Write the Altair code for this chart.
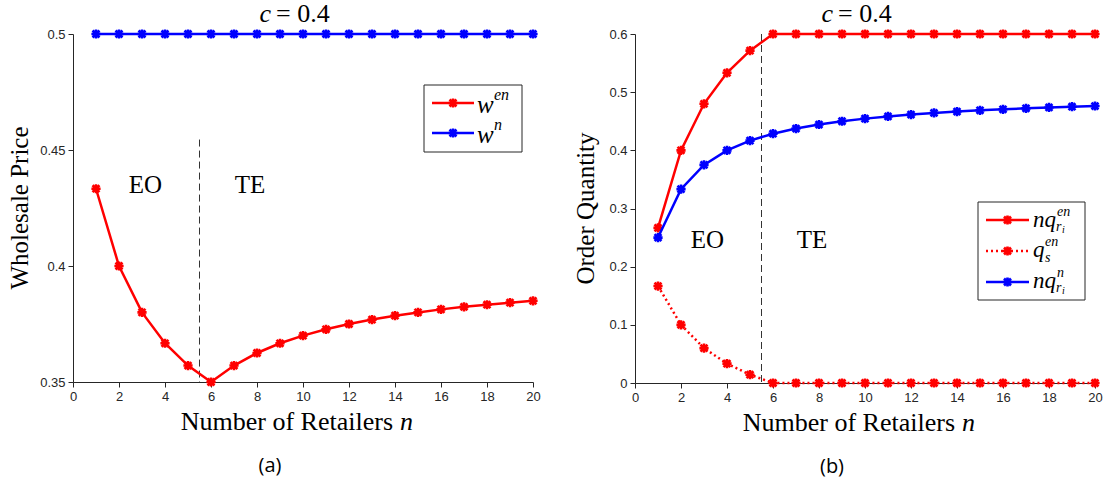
import altair as alt
import pandas as pd

# ---------------- data ----------------
n_retailers = [1, 2, 3, 4, 5, 6, 7, 8, 9, 10, 11, 12, 13, 14, 15, 16, 17, 18, 19, 20]
c_text = "0.4"

w_en = [0.4333, 0.4000, 0.3800, 0.3667, 0.3571, 0.3500, 0.3571, 0.3625, 0.3667, 0.3700,
        0.3727, 0.3750, 0.3769, 0.3786, 0.3800, 0.3813, 0.3824, 0.3833, 0.3842, 0.3850]
w_n = [0.5, 0.5, 0.5, 0.5, 0.5, 0.5, 0.5, 0.5, 0.5, 0.5,
       0.5, 0.5, 0.5, 0.5, 0.5, 0.5, 0.5, 0.5, 0.5, 0.5]

nq_en = [0.2667, 0.4000, 0.4800, 0.5333, 0.5714, 0.6, 0.6, 0.6, 0.6, 0.6,
         0.6, 0.6, 0.6, 0.6, 0.6, 0.6, 0.6, 0.6, 0.6, 0.6]
qs_en = [0.1667, 0.1000, 0.0600, 0.0333, 0.0143, 0.0, 0.0, 0.0, 0.0, 0.0,
         0.0, 0.0, 0.0, 0.0, 0.0, 0.0, 0.0, 0.0, 0.0, 0.0]
nq_n = [0.2500, 0.3333, 0.3750, 0.4000, 0.4167, 0.4286, 0.4375, 0.4444, 0.4500, 0.4545,
        0.4583, 0.4615, 0.4643, 0.4667, 0.4688, 0.4706, 0.4722, 0.4737, 0.4750, 0.4762]

x_ticks = [0, 2, 4, 6, 8, 10, 12, 14, 16, 18, 20]
y_ticks_a = [0.35, 0.4, 0.45, 0.5]
y_ticks_b = [0, 0.1, 0.2, 0.3, 0.4, 0.5, 0.6]

boundary_n = 5.5
boundary_a = [0.4545, 0.35]
boundary_b = [0.6, 0.0]
regime_labels = ["EO", "TE"]
regime_n = [3.15, 7.7]
regime_v_a = [0.435, 0.435]
regime_v_b = [0.245, 0.245]

# ---------------- styling ----------------
W = 460
H_A, H_B = 348, 349
SERIF = "Liberation Serif"
SANS = "Liberation Sans"
DARK = "#262626"
RED, BLUE = "#ff0000", "#0000ff"
AST = "M-1,0L1,0M0,-1L0,1M-0.75,-0.75L0.75,0.75M-0.75,0.75L0.75,-0.75"
ONE = pd.DataFrame({"k": [0]})
MSIZE, MSTROKE = 85, 2.6


def enc_xy(ydomain, yticks):
    xaxis = alt.Axis(values=x_ticks, title=None, grid=False, labelFont=SANS, labelFontSize=13,
                     labelColor=DARK, tickColor=DARK, domainColor=DARK, tickSize=5,
                     labelPadding=3, labelFlush=False)
    yaxis = alt.Axis(values=yticks, format="~g", title=None, grid=False, labelFont=SANS,
                     labelFontSize=13, labelColor=DARK, tickColor=DARK, domainColor=DARK,
                     tickSize=5, labelPadding=3, labelFlush=False)
    x = alt.X("n:Q", scale=alt.Scale(domain=[0, 20], nice=False), axis=xaxis)
    y = alt.Y("v:Q", scale=alt.Scale(domain=ydomain, nice=False, zero=False), axis=yaxis)
    return x, y


def series_layers(values, color, x, y, dash=None):
    df = pd.DataFrame({"n": n_retailers, "v": values})
    base = alt.Chart(df).encode(x=x, y=y)
    if dash:
        line = base.mark_line(color=color, strokeWidth=2.5, strokeDash=dash)
    else:
        line = base.mark_line(color=color, strokeWidth=2.5)
    sq = base.mark_point(shape="square", size=30, color=color, filled=True, opacity=1)
    pts = base.mark_point(shape=AST, size=MSIZE, color=color, strokeWidth=MSTROKE, filled=False, opacity=1)
    return [line, sq, pts]


def txt(px, py, s, size, italic=False, align="left", font=SERIF, angle=0, baseline="middle", color="black"):
    kw = dict(text=s, fontSize=size, font=font, align=align, baseline=baseline, color=color)
    if italic:
        kw["fontStyle"] = "italic"
    if angle:
        kw["angle"] = angle
    return alt.Chart(ONE).mark_text(**kw).encode(x=alt.value(px), y=alt.value(py))


def leg_row(x0, x1, y, color, dash=None):
    if dash:
        r = alt.Chart(ONE).mark_rule(color=color, strokeWidth=2.5, strokeDash=dash)
    else:
        r = alt.Chart(ONE).mark_rule(color=color, strokeWidth=2.5)
    r = r.encode(x=alt.value(x0), x2=alt.value(x1), y=alt.value(y))
    xm = (x0 + x1) / 2
    s = alt.Chart(ONE).mark_point(shape="square", size=30, color=color, filled=True,
                                  opacity=1).encode(x=alt.value(xm), y=alt.value(y))
    p = alt.Chart(ONE).mark_point(shape=AST, size=MSIZE, color=color, strokeWidth=MSTROKE, filled=False,
                                  opacity=1).encode(x=alt.value(xm), y=alt.value(y))
    return [r, s, p]


def box(x0, x1, y0, y1):
    return alt.Chart(ONE).mark_rect(fill="white", stroke=DARK, strokeWidth=1).encode(
        x=alt.value(x0), x2=alt.value(x1), y=alt.value(y0), y2=alt.value(y1))


def common(x, y, boundary, regime_v, ytitle, ytitle_x, height, caption):
    layers = []
    bdf = pd.DataFrame({"n": [boundary_n], "v": [boundary[0]], "v2": [boundary[1]]})
    layers.append(alt.Chart(bdf).mark_rule(color="#333333", strokeWidth=1, strokeDash=[7, 4])
                  .encode(x=x, y=y, y2="v2:Q"))
    rdf = pd.DataFrame({"n": regime_n, "v": regime_v, "lab": regime_labels})
    layers.append(alt.Chart(rdf).mark_text(font=SERIF, fontSize=25, color="black")
                  .encode(x=x, y=y, text="lab:N"))
    # panel title  c = 0.4
    layers.append(txt(198, -20, "c", 26, italic=True, align="right"))
    layers.append(txt(203, -20, "= " + c_text, 26, align="left"))
    # axis titles
    layers.append(txt(320, height + 40, "Number of Retailers", 26, align="right"))
    layers.append(txt(327, height + 40, "n", 26, italic=True, align="left"))
    layers.append(txt(ytitle_x, height / 2, ytitle, 25, align="center", angle=270))
    # caption
    layers.append(txt(197, height + 84, caption, 20, align="center", font="Open Sans"))
    return layers


# ---------------- panel (a) ----------------
xa, ya = enc_xy([0.35, 0.5], y_ticks_a)
layers_a = common(xa, ya, boundary_a, regime_v_a, "Wholesale Price", -53, H_A, "(a)")
layers_a += series_layers(w_en, RED, xa, ya)
layers_a += series_layers(w_n, BLUE, xa, ya)
layers_a.append(box(351, 449, 51, 118))
layers_a += leg_row(359, 401, 69, RED)
layers_a += leg_row(359, 401, 99, BLUE)
layers_a.append(txt(404, 71, "w", 25, italic=True))
layers_a.append(txt(421, 61, "en", 16, italic=True))
layers_a.append(txt(404, 101, "w", 25, italic=True))
layers_a.append(txt(421, 91, "n", 16, italic=True))
chart_a = alt.layer(*layers_a).properties(width=W, height=H_A)

# ---------------- panel (b) ----------------
xb, yb = enc_xy([0, 0.6], y_ticks_b)
layers_b = common(xb, yb, boundary_b, regime_v_b, "Order Quantity", -49, H_B, "(b)")
layers_b += series_layers(nq_en, RED, xb, yb)
layers_b += series_layers(qs_en, RED, xb, yb, dash=[2, 3])
layers_b += series_layers(nq_n, BLUE, xb, yb)
layers_b.append(box(343, 450, 168, 266))
layers_b += leg_row(351, 394, 186, RED)
layers_b += leg_row(351, 394, 217, RED, dash=[2, 3])
layers_b += leg_row(351, 394, 248, BLUE)
# n q^{en}_{r_i}
layers_b.append(txt(398, 186, "nq", 23, italic=True))
layers_b.append(txt(422, 178, "en", 14, italic=True))
layers_b.append(txt(421, 193, "r", 14, italic=True))
layers_b.append(txt(427, 196, "i", 10, italic=True))
# q^{en}_s
layers_b.append(txt(398, 216, "q", 23, italic=True))
layers_b.append(txt(410, 208, "en", 14, italic=True))
layers_b.append(txt(410, 224, "s", 14, italic=True))
# n q^{n}_{r_i}
layers_b.append(txt(398, 247, "nq", 23, italic=True))
layers_b.append(txt(422, 239, "n", 14, italic=True))
layers_b.append(txt(421, 254, "r", 14, italic=True))
layers_b.append(txt(427, 257, "i", 10, italic=True))
chart_b = alt.layer(*layers_b).properties(width=W, height=H_B)

chart = (
    alt.hconcat(chart_a, chart_b, spacing=31)
    .properties(padding={"left": 8, "top": 1, "right": 5, "bottom": 6}, background="white")
    .configure_view(stroke=None)
)

chart.save("out.html", embed_options={"renderer": "svg", "actions": False})
